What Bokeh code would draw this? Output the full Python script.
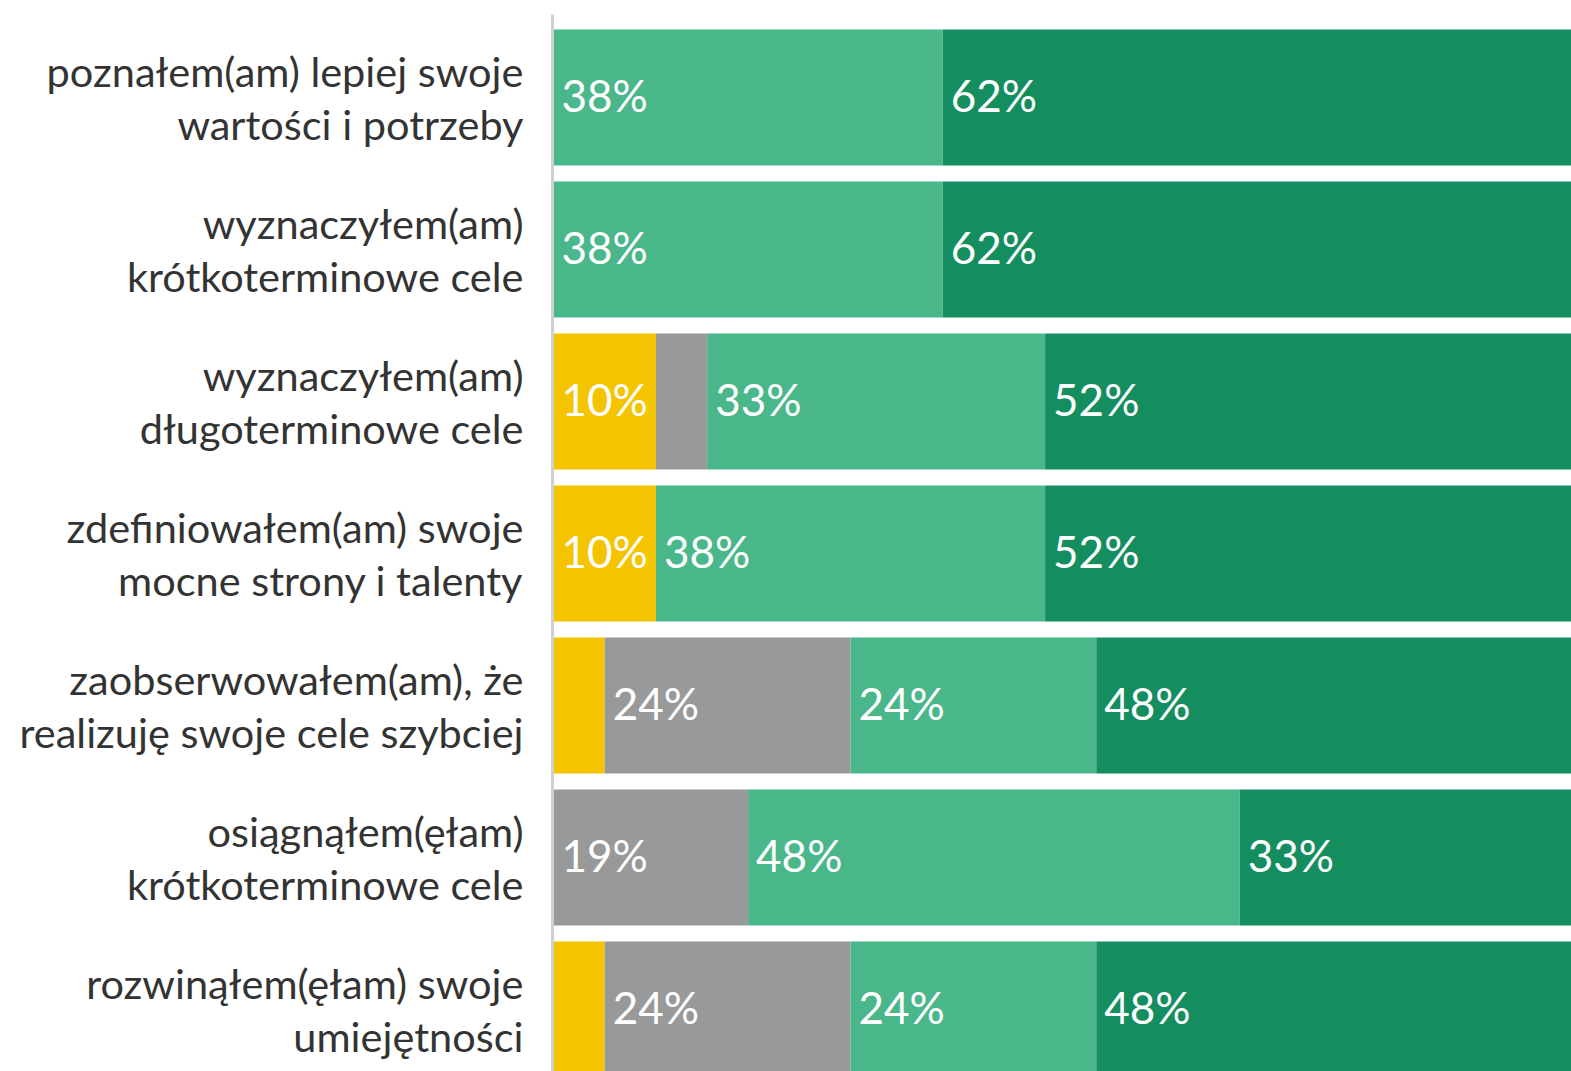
from bokeh.plotting import figure
from bokeh.models import ColumnDataSource, Range1d, FixedTicker, LabelSet
from bokeh.core.properties import value
from bokeh.embed import file_html
from bokeh.resources import INLINE

categories = [
    "poznałem(am) lepiej swoje\nwartości i potrzeby",
    "wyznaczyłem(am)\nkrótkoterminowe cele",
    "wyznaczyłem(am)\ndługoterminowe cele",
    "zdefiniowałem(am) swoje\nmocne strony i talenty",
    "zaobserwowałem(am), że\nrealizuję swoje cele szybciej",
    "osiągnąłem(ęłam)\nkrótkoterminowe cele",
    "rozwinąłem(ęłam) swoje\numiejętności",
]
s_yellow = [0, 0, 10, 10, 5, 0, 5]
s_gray = [0, 0, 5, 0, 24, 19, 24]
s_light = [38, 38, 33, 38, 24, 48, 24]
s_dark = [62, 62, 52, 52, 48, 33, 48]

series = [s_yellow, s_gray, s_light, s_dark]
colors = ["#F5C400", "#999999", "#4AB78B", "#148D5F"]

W, H = 1571, 1071
p = figure(width=W, height=H, output_backend="svg", toolbar_location=None,
           x_axis_location=None, min_border_left=552, min_border_right=0,
           min_border_top=14, min_border_bottom=0,
           x_range=Range1d(-0.1, 99.4), y_range=Range1d(6.408, -0.546))
p.outline_line_color = None
p.grid.visible = False
p.background_fill_color = "white"
p.border_fill_color = "white"

ys = list(range(len(categories)))
left = [0.0] * len(categories)
for vals, col in zip(series, colors):
    right = [l + v for l, v in zip(left, vals)]
    src = ColumnDataSource(dict(y=ys, left=left, right=right,
                                txt=[f"{v}%" if v >= 10 else "" for v in vals]))
    p.hbar(y="y", left="left", right="right", height=0.895, source=src,
           fill_color=col, line_color=None)
    lbl = LabelSet(x="left", y="y", text="txt", source=src, x_offset=8, y_offset=2,
                   text_color="white", text_font=value("Lato"), text_font_size="44px",
                   text_baseline="middle", text_align="left")
    p.add_layout(lbl)
    left = right

ax = p.yaxis[0]
ax.ticker = FixedTicker(ticks=ys)
ax.major_label_overrides = {i: c for i, c in enumerate(categories)}
ax.major_tick_line_color = None
ax.minor_tick_line_color = None
ax.major_tick_out = 0
ax.major_tick_in = 0
ax.axis_line_color = "#D0D0D0"
ax.axis_line_width = 3
ax.major_label_standoff = 29
ax.major_label_text_font = "Lato"
ax.major_label_text_font_size = "41.5px"
ax.major_label_text_line_height = 1.06
ax.major_label_text_color = "#333333"
ax.major_label_text_align = "right"

open("out.html", "w").write(file_html(p, INLINE))
